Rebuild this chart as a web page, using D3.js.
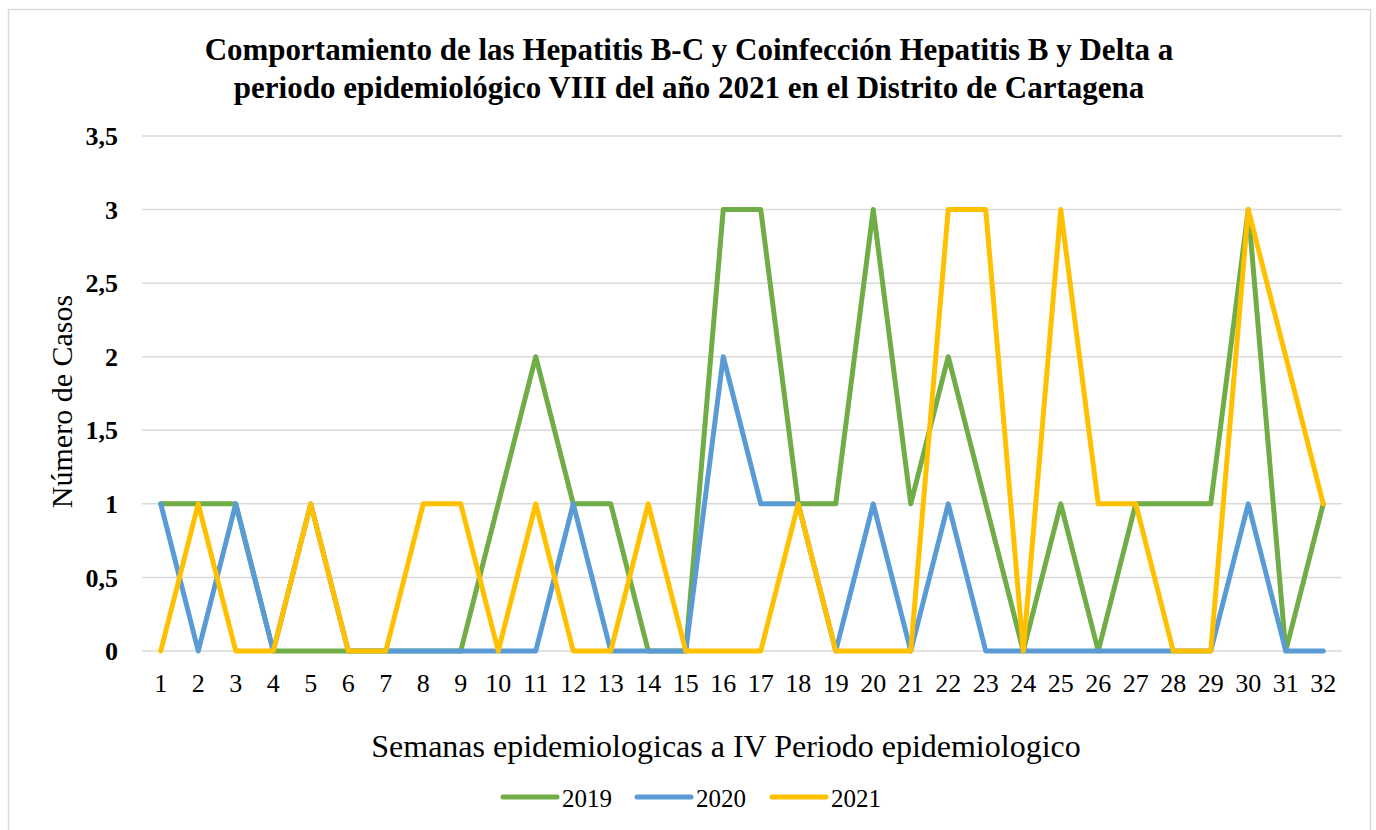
<!DOCTYPE html>
<html>
<head>
<meta charset="utf-8">
<script src="https://cdn.jsdelivr.net/npm/d3@7"></script>
<style>
  body { margin: 0; background: #fff; }
  svg { display: block; font-family: "Liberation Serif", "Times New Roman", serif; }
</style>
</head>
<body>
<svg id="chart" width="1376" height="830"></svg>
<script>
const weeks = d3.range(1, 33).map(String);
const s2019 = [1,1,1,0,0,0,0,0,0,1,2,1,1,0,0,3,3,1,1,3,1,2,1,0,1,0,1,1,1,3,0,1];
const s2020 = [1,0,1,0,1,0,0,0,0,0,0,1,0,0,0,2,1,1,0,1,0,1,0,0,0,0,0,0,0,1,0,0];
const s2021 = [0,1,0,0,1,0,0,1,1,0,1,0,0,1,0,0,0,1,0,0,0,3,3,0,3,1,1,0,0,3,2,1];
const yTicks = [0, 0.5, 1, 1.5, 2, 2.5, 3, 3.5];
const seriesNames = ["2019", "2020", "2021"];
const seriesColors = ["#70AD47", "#5B9BD5", "#FFC000"];
const seriesData = [s2019, s2020, s2021];

(function () {
const svg = d3.select("#chart");
svg.append("rect").attr("x", 8.5).attr("y", 9.5).attr("width", 1362).attr("height", 840)
  .attr("fill", "#fff").attr("stroke", "#d9d9d9").attr("stroke-width", 1.5);

const pLeft = 142, pRight = 1342, pTop = 136, pBottom = 651;
const x = d3.scaleBand().domain(weeks).range([pLeft, pRight]);
const y = d3.scaleLinear().domain([0, 3.5]).range([pBottom, pTop]);

svg.append("g").selectAll("line").data(yTicks).join("line")
  .attr("x1", pLeft).attr("x2", pRight)
  .attr("y1", d => y(d)).attr("y2", d => y(d))
  .attr("stroke", "#d9d9d9").attr("stroke-width", 1.5);

const yAxis = d3.axisLeft(y).tickValues(yTicks).tickSize(0).tickPadding(0)
  .tickFormat(d => String(d).replace(".", ","));
const gy = svg.append("g").attr("transform", "translate(118,0)").call(yAxis);
gy.select(".domain").remove();
gy.selectAll("text").attr("font-family", "Liberation Serif").attr("font-size", 26)
  .attr("font-weight", "bold").attr("fill", "#000").attr("dy", "0.33em");

const xAxis = d3.axisBottom(x).tickSize(0).tickPadding(0);
const gx = svg.append("g").attr("transform", `translate(0,${pBottom + 20})`).call(xAxis);
gx.select(".domain").remove();
gx.selectAll("text").attr("font-family", "Liberation Serif").attr("font-size", 26)
  .attr("fill", "#000").attr("dy", "0.8em");

const line = d3.line().x((d, i) => x(weeks[i]) + x.bandwidth() / 2).y(d => y(d));
seriesData.forEach((s, k) => {
  svg.append("path").datum(s).attr("d", line)
    .attr("fill", "none").attr("stroke", seriesColors[k]).attr("stroke-width", 5)
    .attr("stroke-linejoin", "round").attr("stroke-linecap", "round");
});

const title = svg.append("text").attr("text-anchor", "middle")
  .attr("font-size", 31).attr("font-weight", "bold").attr("fill", "#000");
title.append("tspan").attr("x", 689).attr("y", 60)
  .text("Comportamiento de las Hepatitis B-C y Coinfección Hepatitis B y Delta a");
title.append("tspan").attr("x", 689).attr("y", 98)
  .text("periodo epidemiológico VIII del año 2021 en el Distrito de Cartagena");

svg.append("text").attr("transform", `translate(72,${(pTop + pBottom) / 2 + 8}) rotate(-90)`)
  .attr("text-anchor", "middle").attr("font-size", 30).attr("fill", "#000")
  .text("Número de Casos");
svg.append("text").attr("x", 726).attr("y", 757).attr("text-anchor", "middle")
  .attr("font-size", 32).attr("fill", "#000")
  .text("Semanas epidemiologicas a IV Periodo epidemiologico");

const legendX = [503, 637, 772];
const lg = svg.append("g");
seriesNames.forEach((n, k) => {
  lg.append("line").attr("x1", legendX[k]).attr("x2", legendX[k] + 54)
    .attr("y1", 797).attr("y2", 797).attr("stroke", seriesColors[k])
    .attr("stroke-width", 5).attr("stroke-linecap", "round");
  lg.append("text").attr("x", legendX[k] + 59).attr("y", 807)
    .attr("font-size", 25).attr("fill", "#000").text(n);
});
})();
</script>
</body>
</html>
